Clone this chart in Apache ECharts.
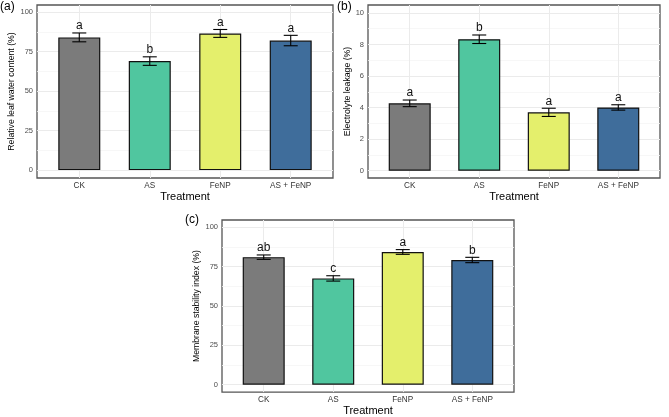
<!DOCTYPE html>
<html lang="en">
<head>
    <meta charset="UTF-8">
    <title>leaf water / electrolyte / membrane</title>
    <script src="https://cdn.jsdelivr.net/npm/echarts@6/dist/echarts.min.js"></script>
    <style>
        html, body {margin: 0; padding: 0; background: #fff;}
        #chart {width: 669px; height: 417px;}
    </style>
</head>
<body>
<div id="chart"></div>
<script>
    // treatments on the x axis
    const categories = ['CK', 'AS', 'FeNP', 'AS + FeNP'];
    const barColors = ['#7b7b7b', '#50c69f', '#e4ef6c', '#3f6d9b'];

    // (a) relative leaf water content
    const rwcMean = [84, 69, 86.5, 82];
    const rwcErr = [2.8, 2.7, 2.5, 3.3];
    const rwcLetters = ['a', 'b', 'a', 'a'];

    // (b) electrolyte leakage
    const elMean = [4.27, 8.33, 3.70, 4.01];
    const elErr = [0.21, 0.27, 0.26, 0.17];
    const elLetters = ['a', 'b', 'a', 'a'];

    // (c) membrane stability index
    const msiMean = [81, 67.5, 84.3, 79.2];
    const msiErr = [1.4, 1.7, 1.5, 1.7];
    const msiLetters = ['ab', 'c', 'a', 'b'];

    // tick labels
    const pctTicks = [0, 25, 50, 75, 100];
    const pctMinor = [12.5, 37.5, 62.5, 87.5];
    const elTicks = [0, 2, 4, 6, 8, 10];
    const elMinor = [1, 3, 5, 7, 9];

    const FONT = '"Liberation Sans", Arial, sans-serif';

    let myChart = echarts.init(document.getElementById('chart'));

    let grids = [], xAxes = [], yAxes = [], series = [];

    function addPanel(box, mean, err, letters, yMin, yMax, ticks, minor, yName, yGap, xGap) {
        let g = grids.length;
        grids.push({
            left: box[0], top: box[1], width: box[2], height: box[3],
            show: true, borderColor: '#555', borderWidth: 1.3, backgroundColor: '#fff', z: 0
        });
        xAxes.push({
            type: 'value', gridIndex: g, min: 0.4, max: 4.6,
            name: 'Treatment', nameLocation: 'middle', nameGap: xGap,
            nameTextStyle: {fontFamily: FONT, fontSize: 11, color: '#000'},
            axisLine: {show: false},
            axisTick: {show: false, customValues: [1, 2, 3, 4]},
            axisLabel: {
                customValues: [1, 2, 3, 4], margin: 4,
                fontFamily: FONT, fontSize: 8.2, color: '#333',
                formatter: v => categories[Math.round(v) - 1]
            },
            splitLine: {show: true, lineStyle: {color: '#ebebeb', width: 1}}
        });
        let yi = yAxes.length;
        yAxes.push({
            type: 'value', gridIndex: g, min: yMin, max: yMax,
            name: yName, nameLocation: 'middle', nameGap: yGap,
            nameTextStyle: {fontFamily: FONT, fontSize: 8.7, color: '#000'},
            axisLine: {show: false},
            axisTick: {show: false, customValues: ticks},
            axisLabel: {customValues: ticks, margin: 4, fontFamily: FONT, fontSize: 7.5, color: '#4d4d4d'},
            splitLine: {show: true, lineStyle: {color: '#ebebeb', width: 1}}
        });
        // minor grid lines
        yAxes.push({
            type: 'value', gridIndex: g, min: yMin, max: yMax, position: 'left',
            axisLine: {show: false},
            axisTick: {show: false, customValues: minor},
            axisLabel: {show: false},
            splitLine: {show: true, lineStyle: {color: '#f5f5f5', width: 0.8}}
        });

        series.push({
            type: 'bar', xAxisIndex: g, yAxisIndex: yi,
            barWidth: 42,
            data: mean.map((v, i) => ({
                value: [i + 1, v],
                itemStyle: {color: barColors[i], borderColor: '#111', borderWidth: 1.2}
            })),
            z: 2
        });
        series.push({
            type: 'custom', xAxisIndex: g, yAxisIndex: yi,
            data: mean.map((v, i) => [i + 1, v - err[i], v + err[i]]),
            renderItem: function (params, api) {
                let x = api.value(0);
                let top = api.coord([x, api.value(2)]);
                let bot = api.coord([x, api.value(1)]);
                let half = 7;
                let st = {stroke: '#000', lineWidth: 1.1};
                return {
                    type: 'group', children: [
                        {type: 'line', shape: {x1: top[0], y1: top[1], x2: bot[0], y2: bot[1]}, style: st},
                        {type: 'line', shape: {x1: top[0] - half, y1: top[1], x2: top[0] + half, y2: top[1]}, style: st},
                        {type: 'line', shape: {x1: bot[0] - half, y1: bot[1], x2: bot[0] + half, y2: bot[1]}, style: st},
                        {
                            type: 'text', style: {
                                text: letters[params.dataIndex], x: top[0], y: top[1] - 1,
                                align: 'center', verticalAlign: 'bottom',
                                fontFamily: FONT, fontSize: 12, fill: '#111'
                            }
                        }
                    ]
                };
            },
            z: 3
        });
    }

    addPanel([37, 5, 296, 173], rwcMean, rwcErr, rwcLetters, -5, 104.5, pctTicks, pctMinor,
        'Relative leaf water content (%)', 18, 13);
    addPanel([368, 5, 292, 173], elMean, elErr, elLetters, -0.46, 10.5, elTicks, elMinor,
        'Electrolyte leakage (%)', 13, 13);
    addPanel([222, 220, 292, 173], msiMean, msiErr, msiLetters, -4.7, 104.6, pctTicks, pctMinor,
        'Membrane stability index (%)', 19, 12);

    let tag = {fontFamily: FONT, fontSize: 12, fontWeight: 'normal', color: '#000'};
    let option = {
        animation: false,
        backgroundColor: '#fff',
        title: [
            {text: '(a)', left: 0, top: 1, padding: 0, textStyle: tag},
            {text: '(b)', left: 337, top: 1, padding: 0, textStyle: tag},
            {text: '(c)', left: 185, top: 214, padding: 0, textStyle: tag}
        ],
        grid: grids,
        xAxis: xAxes,
        yAxis: yAxes,
        series: series
    };

    myChart.setOption(option);
</script>
</body>
</html>
